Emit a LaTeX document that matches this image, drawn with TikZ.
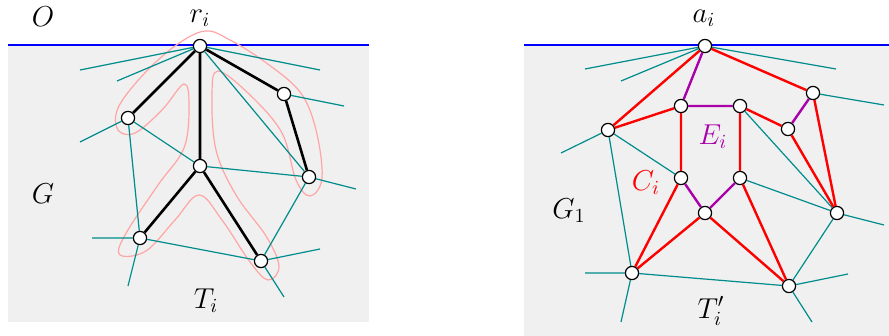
\documentclass[tikz,border=0pt]{standalone}
\usepackage{tikz}
\definecolor{fondo}{RGB}{240,240,240}
\definecolor{verdeazul}{RGB}{0,140,140}
\definecolor{morado}{RGB}{170,0,170}
\definecolor{rosa}{RGB}{255,165,165}
\tikzset{
  vert/.style={circle, draw=black, fill=white, line width=0.6pt, inner sep=0pt, minimum size=6.6pt},
  arista/.style={verdeazul, line width=0.6pt},
  arbol/.style={black, line width=1.3pt},
  ciclo/.style={red, line width=1.2pt},
  extra/.style={morado, line width=1.2pt},
  etiq/.style={font=\Large, inner sep=0pt}
}
\begin{document}
\begin{tikzpicture}[x=0.5pt, y=-0.5pt]
  \useasboundingbox (0,0) rectangle (889,336);
  % Fondos
  \fill[fondo] (8,45) rectangle (369,322);
  \fill[fondo] (524,45) rectangle (889,336);
  \draw[blue, line width=0.6pt] (8,45) -- (369,45);
  \draw[blue, line width=0.6pt] (524,45) -- (889,45);
  % Contorno del arbol T_i
  \draw[rosa, line width=0.6pt] plot[smooth cycle, tension=0.6] coordinates {
    (205,31) (175,46) (142,76) (118,108) (118,130) (135,133) (162,110) (184,84)
    (189,105) (184,148) (158,185) (125,235) (120,255) (146,251) (175,220) (199,195)
    (222,220) (250,262) (268,280) (279,266) (266,236) (236,195) (216,150) (212,95)
    (218,71) (250,95) (282,133) (296,180) (310,196) (322,178) (316,130) (300,92)
    (265,62) (230,40)};
  % Vertices de G
  \node[vert] (r) at (200,46) {};
  \node[vert] (la) at (128,118) {};
  \node[vert] (lb) at (284,94) {};
  \node[vert] (lc) at (200,166) {};
  \node[vert] (ld) at (309,177) {};
  \node[vert] (le) at (140,238) {};
  \node[vert] (lf) at (261,261) {};
  % Extremos libres de G
  \coordinate (g1) at (80,70);
  \coordinate (g2) at (117,81);
  \coordinate (g3) at (320,70);
  \coordinate (g4) at (80,142);
  \coordinate (g5) at (344,106);
  \coordinate (g6) at (356,189);
  \coordinate (g7) at (92,238);
  \coordinate (g8) at (128,286);
  \coordinate (g9) at (320,249);
  \coordinate (g10) at (284,297);
  % Aristas de G
  \draw[arista] (r) -- (g1) (r) -- (g2) (r) -- (g3) (r) -- (ld);
  \draw[arista] (la) -- (g4) (la) -- (lc) (la) -- (le);
  \draw[arista] (lb) -- (g5) (lc) -- (ld) (ld) -- (g6) (ld) -- (lf);
  \draw[arista] (le) -- (g7) (le) -- (g8) (le) -- (lf);
  \draw[arista] (lf) -- (g9) (lf) -- (g10);
  % Arbol T_i
  \draw[arbol] (r) -- (la) (r) -- (lc) (r) -- (lb) (lb) -- (ld);
  \draw[arbol] (lc) -- (le) (lc) -- (lf);
  % Vertices de G_1
  \node[vert] (ai) at (705,46) {};
  \node[vert] (ra) at (608,130) {};
  \node[vert] (rb) at (681,106) {};
  \node[vert] (rc) at (740,106) {};
  \node[vert] (rd) at (813,93) {};
  \node[vert] (re) at (788,129) {};
  \node[vert] (rf) at (681,178) {};
  \node[vert] (rg) at (740,178) {};
  \node[vert] (rh) at (705,213) {};
  \node[vert] (rk) at (837,213) {};
  \node[vert] (rl) at (632,273) {};
  \node[vert] (rm) at (789,286) {};
  % Extremos libres de G_1
  \coordinate (h1) at (585,69);
  \coordinate (h2) at (621,81);
  \coordinate (h3) at (836,69);
  \coordinate (h4) at (561,153);
  \coordinate (h5) at (884,105);
  \coordinate (h6) at (884,225);
  \coordinate (h7) at (585,273);
  \coordinate (h8) at (621,322);
  \coordinate (h9) at (848,274);
  \coordinate (h10) at (812,322);
  % Aristas de G_1
  \draw[arista] (ai) -- (h1) (ai) -- (h2) (ai) -- (h3);
  \draw[arista] (ra) -- (h4) (ra) -- (rf) (ra) -- (rl);
  \draw[arista] (rc) -- (rk) (rd) -- (h5) (rg) -- (rk) (rk) -- (h6) (rk) -- (rm);
  \draw[arista] (rl) -- (h7) (rl) -- (h8) (rl) -- (rm);
  \draw[arista] (rm) -- (h9) (rm) -- (h10);
  % Ciclo C_i
  \draw[ciclo] (ai) -- (ra) (ra) -- (rb) (rb) -- (rf) (rf) -- (rl) (rl) -- (rh);
  \draw[ciclo] (rh) -- (rm) (rm) -- (rg) (rg) -- (rc) (rc) -- (re) (re) -- (rk);
  \draw[ciclo] (rd) -- (rk) (ai) -- (rd);
  % Aristas E_i
  \draw[extra] (ai) -- (rb) (rb) -- (rc) (rf) -- (rh) (rh) -- (rg) (rd) -- (re);
  % Etiquetas
  \node[etiq] (lO) at (43,17) {$O$};
  \node[etiq] (lri) at (200,18) {$r_i$};
  \node[etiq] (lG) at (43,194) {$G$};
  \node[etiq] (lTi) at (206,301) {$T_i$};
  \node[etiq] (lai) at (704,18) {$a_i$};
  \node[etiq] (lG1) at (569,211) {$G_1$};
  \node[etiq, red] (lCi) at (646,183) {$C_i$};
  \node[etiq, morado] (lEi) at (713,137) {$E_i$};
  \node[etiq] (lTp) at (711,311) {$T_i'$};
\end{tikzpicture}
\end{document}
